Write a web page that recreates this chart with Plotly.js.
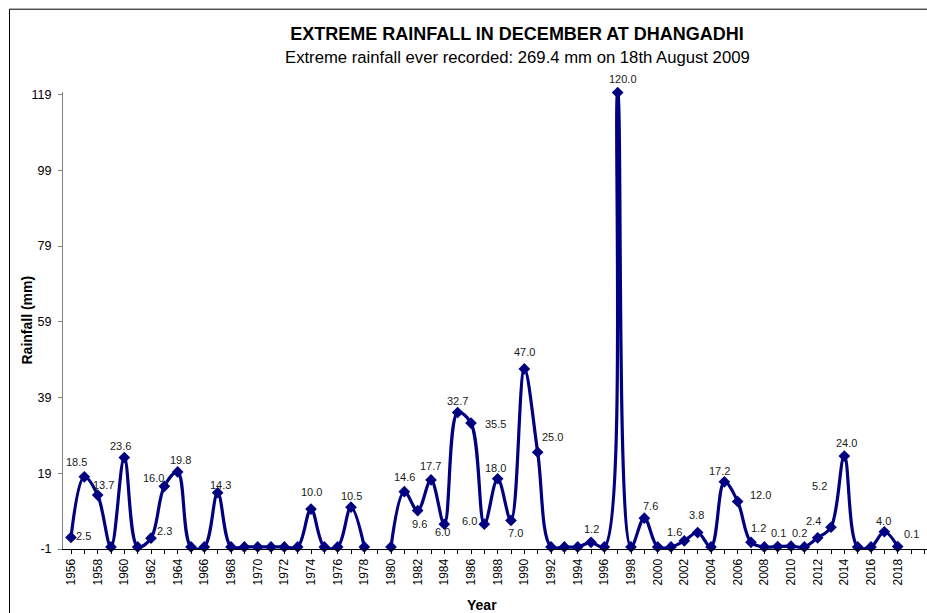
<!DOCTYPE html>
<html>
<head>
<meta charset="utf-8">
<script src="https://cdn.plot.ly/plotly-3.0.1.min.js"></script>
<style>
html,body{margin:0;padding:0;background:#fff;overflow:hidden;}
#chart{width:927px;height:613px;}
</style>
</head>
<body>
<div id="chart"></div>
<script>
// ---- data ----
const years = [1956,1957,1958,1959,1960,1961,1962,1963,1964,1965,1966,1967,1968,1969,1970,1971,1972,1973,1974,1975,1976,1977,1978,1979,1980,1981,1982,1983,1984,1985,1986,1987,1988,1989,1990,1991,1992,1993,1994,1995,1996,1997,1998,1999,2000,2001,2002,2003,2004,2005,2006,2007,2008,2009,2010,2011,2012,2013,2014,2015,2016,2017,2018];
const rainfall = [2.5,18.5,13.7,0,23.6,0,2.3,16.0,19.8,0,0,14.3,0,0,0,0,0,0,10.0,0,0,10.5,0,null,0,14.6,9.6,17.7,6.0,35.5,32.7,6.0,18.0,7.0,47.0,25.0,0,0,0,1.2,0,120.0,0,7.6,0,0,1.6,3.8,0,17.2,12.0,1.2,0,0.1,0.2,0,2.4,5.2,24.0,0,0,4.0,0.1];
const titleText = "EXTREME RAINFALL IN DECEMBER AT DHANGADHI";
const subtitleText = "Extreme rainfall ever recorded: 269.4 mm on 18th August 2009";
const yTitle = "Rainfall (mm)";
const xTitle = "Year";

// ---- axis settings ----
const yMin = -0.55, yMax = 120.15, yStep = 20;
const xMin = 1955.4, xMax = 2020.2, xFirstTick = 1956, xLastTick = 2020, xStep = 2;

// ---- label placement (pixel offsets of each data label from its point) ----
const labelOffsets = {
  1956:[12,-1],1957:[-8,-15],1958:[6,-10],1960:[-4,-12],1962:[13,-7],1963:[-11,-8],1964:[3,-12],
  1967:[3,-8],1974:[0,-17],1977:[0,-11],1981:[0,-15],1982:[2,13],1983:[-1,-14],1984:[-2,8],
  1985:[38,11],1986:[-14,-22],1987:[-15,-3],1988:[-2,-11],1989:[4,13],1990:[0,-17],1991:[15,-15],
  1995:[0,-13],1997:[5,-14],1999:[6,-12],2002:[-10,-9],2003:[-1,-18],2005:[-5,-11],2006:[23,-6],
  2007:[7,-14],2009:[1,-14],2010:[8,-13],2012:[-4,-17],2013:[-12,-41],2014:[2,-13],2017:[-1,-11],2018:[14,-13]
};

const FONT = 'Liberation Sans, Arial, sans-serif';
const NAVY = '#000080';

// y ticks every 20 from the axis minimum, labelled rounded (as the original's "0" number format)
const yTickVals = [];
for (let v = yMin; v <= yMax + 1e-9; v += yStep) yTickVals.push(v);
const yTickText = yTickVals.map(v => String(Math.round(v)));
const xTickVals = [];
for (let v = xFirstTick; v <= xLastTick; v += xStep) xTickVals.push(v);
const xTickText = xTickVals.map(String);

const trace = {
  x: years, y: rainfall, type: 'scatter', mode: 'lines+markers',
  connectgaps: false, cliponaxis: false,
  line: {color: NAVY, width: 3.2, shape: 'spline', smoothing: 1},
  marker: {symbol: 'diamond', size: 9, color: NAVY},
  hoverinfo: 'x+y'
};

const annotations = [];
years.forEach((yr, i) => {
  const v = rainfall[i];
  if (v === null || v === 0) return;
  const off = labelOffsets[yr] || [0, -13];
  annotations.push({
    x: yr, y: v, xref: 'x', yref: 'y', text: v.toFixed(1), showarrow: false,
    xshift: off[0], yshift: -off[1], xanchor: 'center', yanchor: 'middle',
    font: {family: FONT, size: 11, color: '#1a1a1a'}
  });
});
annotations.push({
  text: subtitleText, xref: 'paper', yref: 'paper', x: 0.5255, y: 1.0765,
  xanchor: 'center', yanchor: 'middle', showarrow: false,
  font: {family: FONT, size: 16.7, color: '#000'}
});
annotations.push({
  text: '<b>' + yTitle + '</b>', xref: 'paper', yref: 'paper', x: -0.0428, y: 0.5,
  textangle: -90, xanchor: 'center', yanchor: 'middle', showarrow: false,
  font: {family: FONT, size: 14, color: '#000'}
});
annotations.push({
  text: '<b>' + xTitle + '</b>', xref: 'paper', yref: 'paper', x: 0.485, y: -0.1218,
  xanchor: 'center', yanchor: 'middle', showarrow: false,
  font: {family: FONT, size: 14, color: '#000'}
});

const layout = {
  width: 927, height: 613,
  margin: {l: 63, r: 0, t: 92, b: 64, pad: 0},
  paper_bgcolor: '#fff', plot_bgcolor: '#fff',
  showlegend: false,
  font: {family: FONT, color: '#000'},
  title: {
    text: '<b>' + titleText + '</b>', xref: 'paper', x: 0.5255, xanchor: 'center',
    yref: 'container', y: 1 - 34/613, yanchor: 'middle',
    font: {family: FONT, size: 18, color: '#000'}
  },
  xaxis: {
    range: [xMin, xMax], tickmode: 'array', tickvals: xTickVals, ticktext: xTickText,
    ticks: 'outside', ticklen: 4, tickwidth: 1, tickcolor: '#000',
    minor: {tickmode: 'linear', tick0: xFirstTick, dtick: 1, ticks: 'outside', ticklen: 4, tickcolor: '#000', showgrid: false},
    tickangle: -90, tickfont: {family: FONT, size: 12, color: '#000'},
    showline: true, linecolor: '#000', linewidth: 1,
    showgrid: false, zeroline: false, fixedrange: true
  },
  yaxis: {
    range: [yMin, yMax], tickmode: 'array', tickvals: yTickVals, ticktext: yTickText,
    ticks: 'outside', ticklen: 4, tickwidth: 1, tickcolor: '#808080',
    tickfont: {family: FONT, size: 12.5, color: '#000'}, ticklabelstandoff: 4,
    showline: true, linecolor: '#808080', linewidth: 1,
    showgrid: false, zeroline: false, fixedrange: true
  },
  shapes: [{
    type: 'rect', xref: 'paper', yref: 'paper',
    x0: (9.5 - 63) / 864, x1: 1.2, y0: -0.3, y1: (549.3 - 9.5) / 457,
    line: {color: '#000', width: 1}, fillcolor: 'rgba(0,0,0,0)', layer: 'below'
  }],
  annotations: annotations
};

Plotly.newPlot('chart', [trace], layout, {displayModeBar: false, staticPlot: true});
</script>
</body>
</html>
